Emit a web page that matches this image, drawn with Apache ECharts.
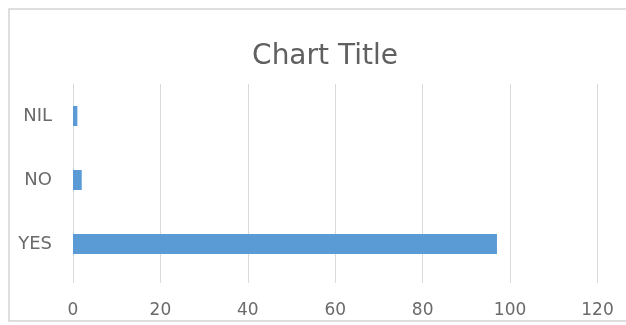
<!DOCTYPE html>
<html>
<head>
<meta charset="utf-8">
<script src="https://cdn.jsdelivr.net/npm/echarts@6/dist/echarts.min.js"></script>
<style>
  html, body { margin: 0; padding: 0; background: #ffffff; }
  #chart { width: 626px; height: 325px; }
</style>
</head>
<body>
<div id="chart"></div>
<script>
// Categories listed bottom-to-top, as the category axis draws them
const categories = ['YES', 'NO', 'NIL'];
const responses = [97, 2, 1];
const xTicks = { min: 0, max: 120, step: 20 };

const chart = echarts.init(document.getElementById('chart'), null, { renderer: 'canvas' });

const textColor = '#6a6a6a';
const gridColor = '#d9d9d9';
const fontFamily = '"DejaVu Sans", sans-serif';

chart.setOption({
  backgroundColor: '#ffffff',
  animation: false,
  title: {
    text: 'Chart Title',
    left: 320,
    top: 38,
    textAlign: 'center',
    textStyle: { color: '#606060', fontSize: 28, fontWeight: 'normal', fontFamily: fontFamily }
  },
  graphic: [{
    type: 'rect',
    shape: { x: 9, y: 9, width: 630, height: 312 },
    style: { fill: 'none', stroke: '#d4d4d4', lineWidth: 1.5 },
    silent: true
  }],
  grid: { left: 73, right: 28.5, top: 84, bottom: 49, containLabel: false },
  xAxis: {
    type: 'value',
    min: xTicks.min,
    max: xTicks.max,
    interval: xTicks.step,
    axisLine: { show: false },
    axisTick: { show: true, length: 7, lineStyle: { color: gridColor, width: 1 } },
    splitLine: { show: true, lineStyle: { color: gridColor, width: 1 } },
    axisLabel: { color: textColor, fontSize: 17, fontFamily: fontFamily, margin: 26 }
  },
  yAxis: {
    type: 'category',
    data: categories,
    axisLine: { show: true, lineStyle: { color: gridColor, width: 1 } },
    axisTick: { show: false },
    axisLabel: { color: textColor, fontSize: 18, fontFamily: fontFamily, margin: 21 }
  },
  series: [{
    type: 'bar',
    data: responses,
    barWidth: 20,
    itemStyle: { color: '#5b9bd5' }
  }]
});
</script>
</body>
</html>
